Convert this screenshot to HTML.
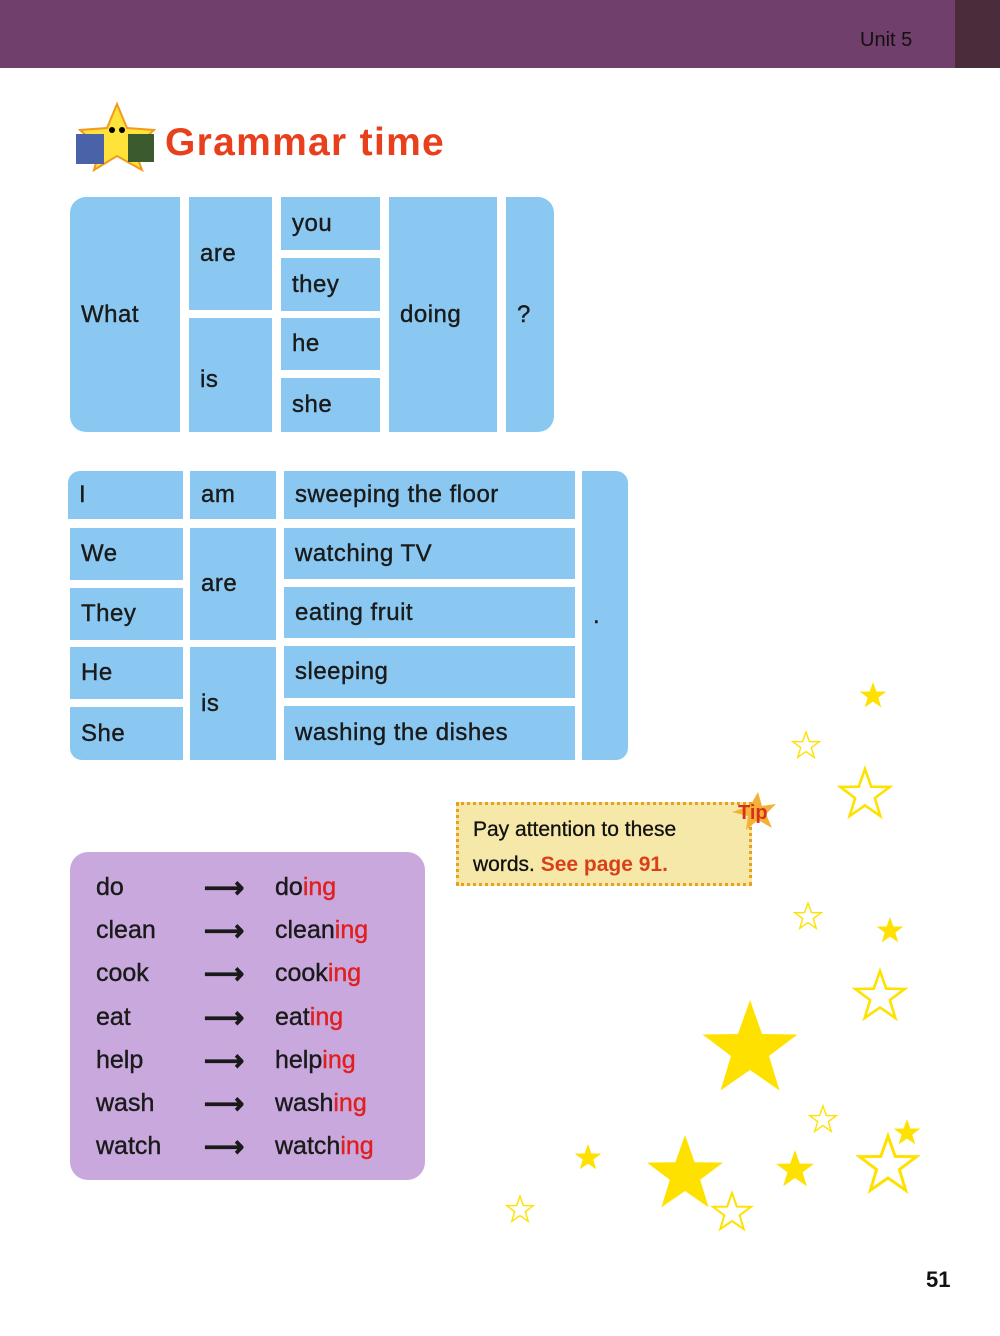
<!DOCTYPE html><html><head><style>
body{margin:0;width:1000px;height:1336px;background:#fff;position:relative;overflow:hidden;font-family:"Liberation Sans",sans-serif;}
.a{position:absolute}
.c{position:absolute;background:#8ac8f2;box-sizing:border-box;font-size:24px;color:#1a1a1a;display:flex;align-items:center;padding-left:11px;letter-spacing:0.5px;-webkit-text-stroke:0.4px #1a1a1a;}
.w{position:absolute;font-size:25px;color:#1a1a1a;-webkit-text-stroke:0.4px #1a1a1a;}
.r{color:#e0201e;-webkit-text-stroke:0.4px #e0201e}
</style></head><body>
<div class="a" style="left:0;top:0;width:1000px;height:68px;background:#713f6b"></div>
<div class="a" style="left:955px;top:0;width:45px;height:68px;background:#4b2c3b"></div>
<div class="a" style="left:860px;top:29px;font-size:20px;color:#111">Unit 5</div>
<svg class="a" style="left:72px;top:100px" width="90" height="72"><polygon points="45,4 55,28 82,30 62,48 70,70 45,56 22,70 28,48 8,30 35,28" fill="#ffe23a" stroke="#f29a1e" stroke-width="2"/><rect x="4" y="34" width="28" height="30" fill="#4a63a8"/><rect x="56" y="34" width="26" height="28" fill="#3b5a2e"/><circle cx="40" cy="30" r="3"/><circle cx="50" cy="30" r="3"/></svg>
<div class="a" style="left:165px;top:121px;font-size:39px;font-weight:bold;color:#e8401c;letter-spacing:1.3px">Grammar time</div>

<div class="c" style="left:70px;top:197px;width:110px;height:235px;border-radius:16px 0 0 16px">What</div>
<div class="c" style="left:189px;top:197px;width:83px;height:113px">are</div>
<div class="c" style="left:189px;top:318px;width:83px;height:114px;padding-top:10px">is</div>
<div class="c" style="left:281px;top:197px;width:99px;height:53px">you</div>
<div class="c" style="left:281px;top:258px;width:99px;height:53px">they</div>
<div class="c" style="left:281px;top:318px;width:99px;height:52px">he</div>
<div class="c" style="left:281px;top:378px;width:99px;height:54px">she</div>
<div class="c" style="left:389px;top:197px;width:108px;height:235px">doing</div>
<div class="c" style="left:506px;top:197px;width:48px;height:235px;border-radius:0 16px 16px 0">?</div>

<div class="c" style="left:68px;top:471px;width:115px;height:48px;border-radius:12px 0 0 0">I</div>
<div class="c" style="left:70px;top:528px;width:113px;height:52px">We</div>
<div class="c" style="left:70px;top:588px;width:113px;height:52px">They</div>
<div class="c" style="left:70px;top:647px;width:113px;height:52px">He</div>
<div class="c" style="left:70px;top:707px;width:113px;height:53px;border-radius:0 0 0 12px">She</div>
<div class="c" style="left:190px;top:471px;width:86px;height:48px">am</div>
<div class="c" style="left:190px;top:528px;width:86px;height:112px">are</div>
<div class="c" style="left:190px;top:647px;width:86px;height:113px">is</div>
<div class="c" style="left:284px;top:471px;width:291px;height:48px">sweeping the floor</div>
<div class="c" style="left:284px;top:528px;width:291px;height:51px">watching TV</div>
<div class="c" style="left:284px;top:587px;width:291px;height:51px">eating fruit</div>
<div class="c" style="left:284px;top:646px;width:291px;height:52px">sleeping</div>
<div class="c" style="left:284px;top:706px;width:291px;height:54px">washing the dishes</div>
<div class="c" style="left:582px;top:471px;width:46px;height:289px;border-radius:0 12px 12px 0">.</div>

<div class="a" style="left:456px;top:802px;width:296px;height:84px;background:#f6e8a8;border:3px dotted #e8a020;box-sizing:border-box"></div>
<div class="a" style="left:473px;top:812px;font-size:21px;line-height:35px;color:#111;-webkit-text-stroke:0.3px #111">Pay attention to these<br>words. <span style="color:#d9401a;font-weight:bold;-webkit-text-stroke:0">See page 91.</span></div>
<svg class="a" style="left:728px;top:790px" width="50" height="44"><polygon points="30,2 34,16 48,14 38,24 44,38 30,30 18,40 20,26 4,22 22,16" fill="#f2b23a"/></svg>
<div class="a" style="left:738px;top:802px;font-size:20px;font-weight:bold;color:#d9301a">Tip</div>

<div class="a" style="left:70px;top:852px;width:355px;height:328px;background:#c9a8de;border-radius:18px"></div>
<div class="w" style="left:96px;top:866px;line-height:43.2px">do<br>clean<br>cook<br>eat<br>help<br>wash<br>watch</div>
<div class="w" style="left:204px;top:866px;line-height:43.2px;font-size:28px;font-weight:bold">⟶<br>⟶<br>⟶<br>⟶<br>⟶<br>⟶<br>⟶</div>
<div class="w" style="left:275px;top:866px;line-height:43.2px">do<span class="r">ing</span><br>clean<span class="r">ing</span><br>cook<span class="r">ing</span><br>eat<span class="r">ing</span><br>help<span class="r">ing</span><br>wash<span class="r">ing</span><br>watch<span class="r">ing</span></div>

<svg class="a" style="left:0;top:0" width="1000" height="1336">
<defs><polygon id="s" points="0,-10 2.4,-3.2 9.5,-3.1 3.8,1.2 5.9,8.1 0,4 -5.9,8.1 -3.8,1.2 -9.5,-3.1 -2.4,-3.2"/></defs>
<g fill="#ffe100"><use href="#s" transform="translate(873,696) scale(1.4)"/><use href="#s" transform="translate(890,931) scale(1.4)"/><use href="#s" transform="translate(750,1050) scale(5)"/><use href="#s" transform="translate(685,1175) scale(4)"/><use href="#s" transform="translate(795,1170) scale(2)"/><use href="#s" transform="translate(588,1158) scale(1.4)"/><use href="#s" transform="translate(907,1133) scale(1.4)"/></g>
<g fill="none" stroke="#ffe100" stroke-width="1"><use href="#s" transform="translate(806,746) scale(1.4)"/><use href="#s" transform="translate(865,795) scale(2.6)"/><use href="#s" transform="translate(808,917) scale(1.4)"/><use href="#s" transform="translate(880,997) scale(2.6)"/><use href="#s" transform="translate(823,1120) scale(1.4)"/><use href="#s" transform="translate(888,1166) scale(3)"/><use href="#s" transform="translate(732,1213) scale(2)"/><use href="#s" transform="translate(520,1210) scale(1.4)"/></g>
</svg>
<div class="a" style="left:926px;top:1267px;font-size:22px;font-weight:bold;color:#111">51</div>
</body></html>
